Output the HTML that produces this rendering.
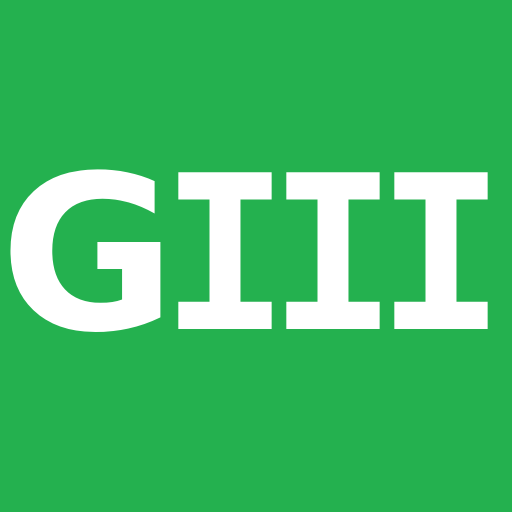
<!DOCTYPE html>
<html>
<head>
<meta charset="utf-8">
<style>
html,body{margin:0;padding:0;background:#24b14f;}
svg{display:block;}
</style>
</head>
<body>
<svg width="512" height="512" viewBox="0 0 512 512">
  <rect x="0" y="0" width="512" height="512" fill="#24b14f"/>
  <g font-weight="bold" font-size="215" fill="#ffffff" text-anchor="middle">
    <text x="88" y="329" font-family="'DejaVu Sans','Liberation Sans',sans-serif">G</text>
    <g font-family="'DejaVu Sans Mono','Liberation Mono',monospace">
      <text x="225" y="329">I</text>
      <text x="333" y="329">I</text>
      <text x="441" y="329">I</text>
    </g>
  </g>
</svg>
</body>
</html>
